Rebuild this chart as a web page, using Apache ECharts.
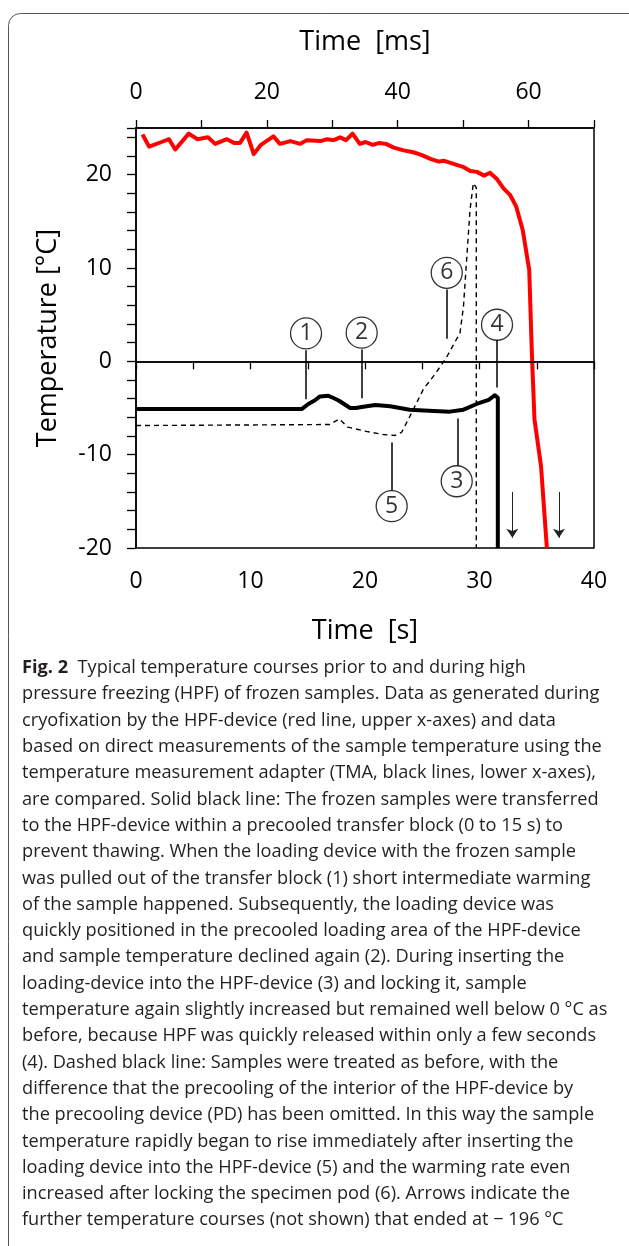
<!DOCTYPE html>
<html><head><meta charset="utf-8">
<script src="https://cdn.jsdelivr.net/npm/echarts@6/dist/echarts.min.js"></script>
<style>html,body{margin:0;padding:0;background:#fff;} #c{width:629px;height:1246px;}</style>
</head><body><div id="c"></div>
<script>
// Red line: HPF-device data (upper axis, ms)
const redMs = [1.0, 2.0, 3.9, 5.05, 6.0, 8.06, 9.4, 11.0, 12.1, 13.9, 15.0, 15.9, 16.9, 18.0, 19.1, 21.0, 22.0, 23.6, 25.1, 26.1, 28.2, 29.2, 30.2, 31.2, 32.1, 33.1, 34.2, 35.1, 36.2, 37.2, 38.2, 39.4, 40.9, 42.4, 43.7, 45.0, 46.3, 47.0, 48.3, 50.1, 51.1, 52.1, 53.2, 54.1, 55.2, 56.2, 57.2, 58.1, 59.1, 60.1, 60.5, 60.9, 61.9, 62.8];
const redT  = [24.3, 23.0, 23.5, 23.8, 22.7, 24.4, 23.8, 24.0, 23.3, 23.8, 23.4, 23.4, 24.5, 22.2, 23.2, 24.1, 23.3, 23.6, 23.3, 23.7, 23.6, 23.8, 23.7, 24.0, 23.7, 24.4, 23.3, 23.5, 23.2, 23.4, 23.3, 22.9, 22.6, 22.4, 22.1, 21.7, 21.4, 21.5, 21.2, 20.8, 20.4, 20.3, 19.9, 20.2, 19.5, 18.5, 17.8, 16.6, 14.1, 9.8, 0.96, -6.2, -11.2, -20];
// Solid black line: TMA (lower axis, s)
const solidS = [0, 14.5, 15.05, 15.6, 16.07, 16.8, 17.2, 17.7, 18.2, 18.7, 19.2, 19.85, 20.9, 22.2, 23.9, 26.0, 27.4, 28.6, 29.75, 30.8, 31.35, 31.6, 31.6];
const solidT = [-5.1, -5.1, -4.57, -4.2, -3.76, -3.7, -3.9, -4.2, -4.6, -5.0, -5.0, -4.86, -4.68, -4.82, -5.18, -5.32, -5.39, -5.18, -4.57, -4.12, -3.63, -3.9, -20];
// Dashed black line: TMA without precooling (lower axis, s)
const dashS = [0, 16.9, 17.76, 18.5, 20.1, 21.6, 22.6, 23.2, 24.1, 25.1, 26.1, 27.1, 28.3, 28.6, 28.9, 29.17, 29.46, 29.72, 29.72];
const dashT = [-6.88, -6.77, -6.17, -7.05, -7.5, -7.84, -7.94, -7.6, -5.46, -2.98, -1.4, 0.39, 3.05, 5.9, 11.3, 16.2, 19.1, 18.6, -20];
// Circled annotations (lower axis units)
const annoNames = ['1', '2', '3', '4', '5', '6'];
const annoS = [14.85, 19.71, 28.01, 31.53, 22.33, 27.14];
const annoT = [2.99, 3.07, -12.85, 3.92, -15.52, 9.48];
const leaderS = [14.85, 19.71, 28.1, 31.53, 22.33, 27.14];
const leaderTop = [1.18, 1.28, -6.12, 2.35, -8.69, 7.69];
const leaderBottom = [-4.06, -3.95, -11.19, -2.81, -13.86, 2.43];
// Arrows (lower axis units)
const arrowS = [32.87, 36.94];
const arrowTop = [-14.0, -14.0];
const arrowBottom = [-18.9, -18.9];

const captionLines = [
  '{b|Fig. 2}  Typical temperature courses prior to and during high',
  'pressure freezing (HPF) of frozen samples. Data as generated during',
  'cryofixation by the HPF-device (red line, upper x-axes) and data',
  'based on direct measurements of the sample temperature using the',
  'temperature measurement adapter (TMA, black lines, lower x-axes),',
  'are compared. Solid black line: The frozen samples were transferred',
  'to the HPF-device within a precooled transfer block (0 to 15 s) to',
  'prevent thawing. When the loading device with the frozen sample',
  'was pulled out of the transfer block (1) short intermediate warming',
  'of the sample happened. Subsequently, the loading device was',
  'quickly positioned in the precooled loading area of the HPF-device',
  'and sample temperature declined again (2). During inserting the',
  'loading-device into the HPF-device (3) and locking it, sample',
  'temperature again slightly increased but remained well below 0 °C as',
  'before, because HPF was quickly released within only a few seconds',
  '(4). Dashed black line: Samples were treated as before, with the',
  'difference that the precooling of the interior of the HPF-device by',
  'the precooling device (PD) has been omitted. In this way the sample',
  'temperature rapidly began to rise immediately after inserting the',
  'loading device into the HPF-device (5) and the warming rate even',
  'increased after locking the specimen pod (6). Arrows indicate the',
  'further temperature courses (not shown) that ended at \u2212 196 °C'
];

const pairs = (a, b) => a.map((v, i) => [v, b[i]]);
const FF = '"Open Sans", sans-serif';
const CAPF = '"Open Sans", sans-serif';

// fit caption font size to the reference line width
const ctx = document.createElement('canvas').getContext('2d');
ctx.font = '19px "Open Sans"';
const capSize = Math.min(20, 19 * 580 / ctx.measureText(captionLines[3]).width);

const captionGraphics = captionLines.map((t, i) => ({
  type: 'text',
  x: 22,
  y: 668 + i * 26.3,
  style: {
    text: t,
    fontSize: capSize,
    fontFamily: CAPF,
    fill: '#231f20',
    verticalAlign: 'middle',
    rich: { b: { fontWeight: 'bold', fontSize: capSize, fontFamily: CAPF, fill: '#231f20' } }
  }
}));

const chart = echarts.init(document.getElementById('c'), null, { renderer: 'canvas' });
const axisLine = { show: true, lineStyle: { color: '#000', width: 1.5 } };
const axisTick = { show: true, length: 8, lineStyle: { color: '#000', width: 1.3 } };

chart.setOption({
  animation: false,
  backgroundColor: '#fff',
  grid: { left: 136, right: 35, top: 128, bottom: 698, show: true, borderColor: '#000', borderWidth: 1.5, backgroundColor: 'transparent' },
  xAxis: [
    {
      type: 'value', position: 'bottom', min: 0, max: 40, interval: 5,
      name: 'Time  [s]', nameLocation: 'middle', nameGap: 70,
      nameTextStyle: { fontSize: 27, fontFamily: FF, color: '#000' },
      axisLine, axisTick, splitLine: { show: false },
      axisLabel: { margin: 22, fontSize: 23, fontFamily: FF, color: '#000', formatter: v => (v % 10 === 0 ? String(v) : '') }
    },
    {
      type: 'value', position: 'top', min: 0, max: 70, interval: 10,
      name: 'Time  [ms]', nameLocation: 'middle', nameGap: 72,
      nameTextStyle: { fontSize: 27, fontFamily: FF, color: '#000' },
      axisLine, axisTick, splitLine: { show: false },
      axisLabel: { margin: 24, fontSize: 23, fontFamily: FF, color: '#000', formatter: v => (v % 20 === 0 ? String(v) : '') }
    }
  ],
  yAxis: {
    type: 'value', min: -20, max: 25, interval: 2,
    name: 'Temperature [°C]', nameLocation: 'middle', nameGap: 74,
    nameTextStyle: { fontSize: 27, fontFamily: FF, color: '#000' },
    axisLine, axisTick: { show: true, length: 9, lineStyle: { color: '#000', width: 1.3 } }, splitLine: { show: false },
    axisLabel: { margin: 24, fontSize: 23, fontFamily: FF, color: '#000', formatter: v => (v % 10 === 0 ? String(v) : '') }
  },
  series: [
    {
      type: 'line', xAxisIndex: 0, yAxisIndex: 0, data: pairs(dashS, dashT), symbol: 'none',
      lineStyle: { color: '#000', width: 1.4, type: [5, 4] }, z: 2
    },
    {
      type: 'line', xAxisIndex: 0, yAxisIndex: 0, data: pairs(solidS, solidT), symbol: 'none',
      lineStyle: { color: '#000', width: 4, join: 'round' }, z: 3,
      markLine: {
        silent: true, symbol: ['none', 'none'], label: { show: false },
        lineStyle: { color: '#000', width: 1.5, type: 'solid' },
        data: [{ yAxis: 0 }]
      }
    },
    {
      type: 'line', xAxisIndex: 1, yAxisIndex: 0, data: pairs(redMs, redT), symbol: 'none',
      lineStyle: { color: '#ff0000', width: 4, join: 'round' }, z: 4
    },
    {
      type: 'lines', coordinateSystem: 'cartesian2d', xAxisIndex: 0, yAxisIndex: 0, silent: true,
      data: leaderS.map((s, i) => ({ coords: [[s, leaderTop[i]], [s, leaderBottom[i]]] })),
      lineStyle: { color: '#000', width: 1.5, opacity: 1 }, z: 4
    },
    {
      type: 'lines', coordinateSystem: 'cartesian2d', xAxisIndex: 0, yAxisIndex: 0, silent: true,
      symbol: ['none', 'arrow'], symbolSize: [0, 9],
      data: arrowS.map((s, i) => ({ coords: [[s, arrowTop[i]], [s, arrowBottom[i]]] })),
      lineStyle: { color: '#222', width: 1, opacity: 1 }, z: 4
    },
    {
      type: 'scatter', xAxisIndex: 0, yAxisIndex: 0, data: pairs(annoS, annoT),
      symbol: 'circle', symbolSize: 31, silent: true,
      itemStyle: { color: '#fff', borderColor: '#000', borderWidth: 1.3 },
      label: { show: true, position: 'inside', formatter: p => annoNames[p.dataIndex], color: '#000', fontSize: 23, fontFamily: FF },
      z: 6
    }
  ],
  graphic: [
    { type: 'rect', shape: { x: 8.5, y: 13.5, width: 640, height: 1300, r: 12 }, style: { fill: 'none', stroke: '#555', lineWidth: 1 }, silent: true, z: -10 },
    ...captionGraphics
  ]
});
</script>
</body></html>
